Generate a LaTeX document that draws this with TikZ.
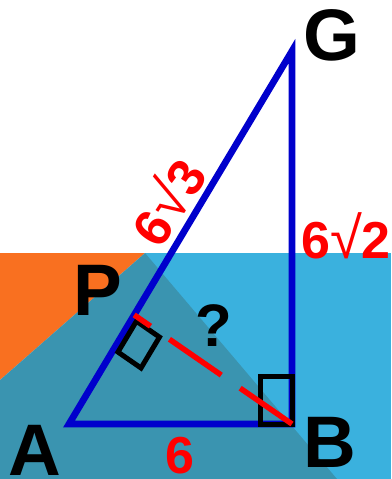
\documentclass[tikz,border=0pt]{standalone}
\usepackage{fontspec}
\setmainfont{Liberation Sans}
\definecolor{lightbluec}{RGB}{58,177,222}
\definecolor{graybluec}{RGB}{58,148,176}
\definecolor{orangec}{RGB}{249,112,32}
\definecolor{triblue}{RGB}{0,0,204}
\newcommand\rootglyph{{\mdseries\fontsize{58}{58}\selectfont √}}
\begin{document}
\begin{tikzpicture}[x=1pt,y=-1pt,
  lbl/.style={font=\bfseries\fontsize{73}{73}\selectfont, inner sep=0, anchor=base},
  qm/.style={font=\bfseries\fontsize{60}{60}\selectfont, inner sep=0, anchor=base},
  num/.style={text=red, font=\bfseries\fontsize{52}{52}\selectfont, inner sep=0, anchor=base},
  tri/.style={draw=triblue, line width=6.7pt, line join=miter, miter limit=10},
  marker/.style={draw=black, line width=5pt, line join=miter},
  dashline/.style={draw=red, line width=5.5pt, dash pattern=on 63pt off 23pt}]
\useasboundingbox (0,0) rectangle (391,479);
\fill[white] (0,0) rectangle (391,479);
\fill[lightbluec] (145,253) rectangle (391,479);
\fill[orangec] (0,253) -- (145,253) -- (0,380) -- cycle;
\fill[graybluec] (145,253) -- (0,380) -- (0,479) -- (337,479) -- cycle;

\coordinate (A) at (69,424);
\coordinate (B) at (292,424);
\coordinate (G) at (292,51);
\coordinate (F) at (134.2,314.9);

\draw[tri] (A) -- (B) -- (G) -- cycle;

\draw[marker] (136.42,321.16) -- (159.46,337.10) -- (141.0,367.98) -- (117.96,352.04) -- cycle;
\draw[marker] (260.8,376.5) rectangle (292.5,424.2);

\draw[dashline] (B) -- (F);

\node[lbl] (Gl) at (331.5,60) {G};
\node[lbl] (Pl) at (97.5,315) {P};
\node[lbl] (Al) at (35,475) {A};
\node[lbl] (Bl) at (329.5,467) {B};
\node[qm] (q) at (214,346.5) {?};
\node[num] (ab) at (180,473) {6};
\node[num] (bg) at (346,258) {6\rootglyph 2};
\node[num, rotate=57] (ag) at (185,212.4) {6\rootglyph 3};
\end{tikzpicture}
\end{document}
